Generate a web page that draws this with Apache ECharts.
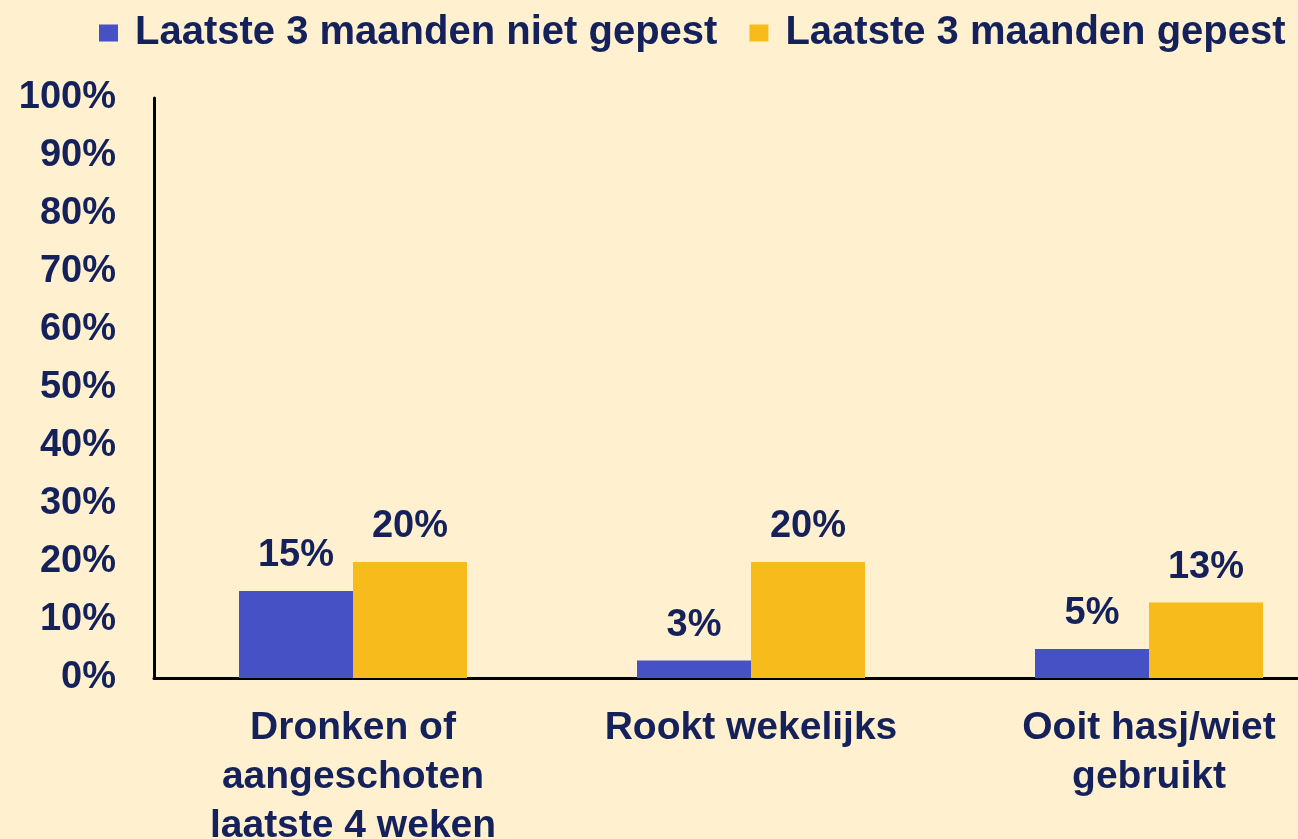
<!DOCTYPE html>
<html>
<head>
<meta charset="utf-8">
<script src="https://cdn.jsdelivr.net/npm/echarts@6/dist/echarts.min.js"></script>
<style>
  html, body { margin: 0; padding: 0; background: #fff0cf; }
  #chart { width: 1298px; height: 839px; }
</style>
</head>
<body>
<div id="chart"></div>
<script>
const categories = ["Dronken of\naangeschoten\nlaatste 4 weken", "Rookt wekelijks", "Ooit hasj/wiet\ngebruikt"];
const seriesNames = ["Laatste 3 maanden niet gepest", "Laatste 3 maanden gepest"];
const nietGepest = [15, 3, 5];
const gepest = [20, 20, 13];

const textColor = "#15215a";
const font = "Liberation Sans, Arial, sans-serif";

const chart = echarts.init(document.getElementById("chart"));
const option = {
  backgroundColor: "#fff0cf",
  textStyle: { fontFamily: font },
  legend: {
    data: seriesNames,
    top: 8,
    left: 94,
    itemWidth: 19,
    itemHeight: 17,
    itemGap: 32,
    icon: "rect",
    textStyle: {
      color: textColor,
      fontSize: 40,
      fontWeight: "bold",
      fontFamily: font,
      padding: [0, 0, 0, 12],
    },
  },
  grid: {
    left: 154,
    top: 98,
    width: 1194,
    height: 580,
    containLabel: false,
    outerBoundsMode: "none",
  },
  xAxis: {
    type: "category",
    data: categories,
    axisLine: { lineStyle: { color: "#000", width: 3 } },
    axisTick: { show: false },
    axisLabel: {
      color: textColor,
      fontSize: 39,
      fontWeight: "bold",
      lineHeight: 49,
      margin: 26,
      interval: 0,
    },
  },
  yAxis: {
    type: "value",
    min: 0,
    max: 100,
    interval: 10,
    axisLine: { show: true, lineStyle: { color: "#000", width: 3 } },
    axisTick: { show: false },
    splitLine: { show: false },
    axisLabel: {
      color: textColor,
      fontSize: 38,
      fontWeight: "bold",
      margin: 38,
      padding: [4, 0, 0, 0],
      formatter: "{value}%",
    },
  },
  series: [
    {
      name: seriesNames[0],
      type: "bar",
      data: nietGepest,
      barWidth: 114,
      barGap: "0%",
      itemStyle: { color: "#4551c4" },
      label: {
        show: true,
        position: "top",
        distance: 16,
        formatter: "{c}%",
        color: textColor,
        fontSize: 38,
        fontWeight: "bold",
      },
    },
    {
      name: seriesNames[1],
      type: "bar",
      data: gepest,
      barWidth: 114,
      barGap: "0%",
      itemStyle: { color: "#f7bc1c" },
      label: {
        show: true,
        position: "top",
        distance: 16,
        formatter: "{c}%",
        color: textColor,
        fontSize: 38,
        fontWeight: "bold",
      },
    },
  ],
};
chart.setOption(option);
window.addEventListener("resize", () => {
  chart.resize();
});
</script>
</body>
</html>
